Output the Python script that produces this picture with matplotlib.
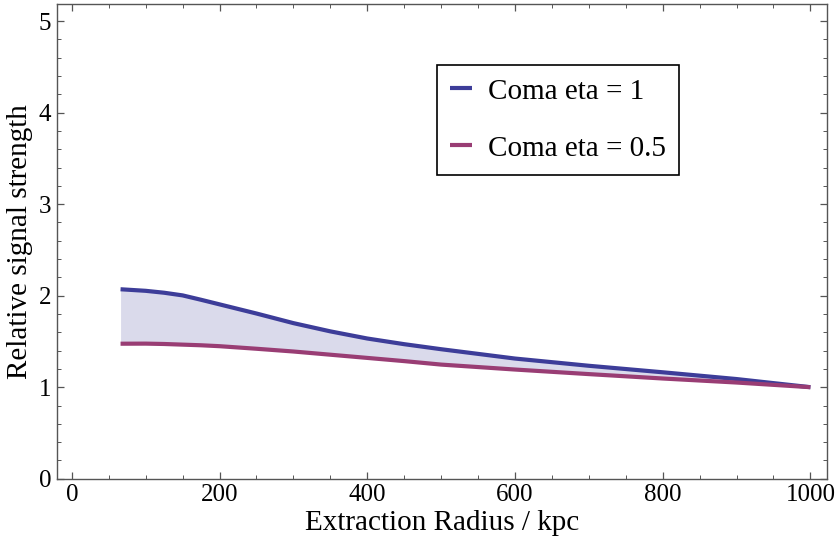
import matplotlib
matplotlib.use("Agg")
import matplotlib.pyplot as plt
from matplotlib.ticker import MultipleLocator

plt.rcParams['font.family'] = ['Liberation Serif', 'DejaVu Serif']

# values
radius = [66, 100, 125, 150, 175, 200, 250, 300, 350, 400, 450, 500,
          600, 700, 800, 900, 1000]
signal_eta1 = [2.07, 2.053, 2.032, 2.003, 1.955, 1.905, 1.805, 1.70, 1.61, 1.532,
               1.47, 1.415, 1.313, 1.234, 1.163, 1.089, 1.0]
signal_eta05 = [1.475, 1.476, 1.472, 1.465, 1.458, 1.448, 1.42, 1.39, 1.355, 1.32,
                1.285, 1.247, 1.193, 1.143, 1.095, 1.051, 1.0]
labels = ['Coma eta = 1', 'Coma eta = 0.5']

blue = '#3D3D99'
purple = '#993D74'
axis_grey = '#555555'

fig = plt.figure(figsize=(8.35, 5.49), dpi=100)
ax = fig.add_axes([0.0683, 0.128, 0.9217, 0.8653])

ax.fill_between(radius, signal_eta05, signal_eta1, color=blue, alpha=0.19, lw=0)
ax.plot(radius, signal_eta1, color=blue, lw=3, label=labels[0], solid_capstyle='butt')
ax.plot(radius, signal_eta05, color=purple, lw=3, label=labels[1], solid_capstyle='butt')

ax.set_xlim(-20, 1022)
ax.set_ylim(0, 5.19)
ax.xaxis.set_major_locator(MultipleLocator(200))
ax.xaxis.set_minor_locator(MultipleLocator(50))
ax.yaxis.set_major_locator(MultipleLocator(1))
ax.yaxis.set_minor_locator(MultipleLocator(0.2))

for s in ax.spines.values():
    s.set_color(axis_grey)
    s.set_linewidth(1.0)
ax.tick_params(which='both', direction='in', top=True, right=True,
               color=axis_grey, labelsize=18, labelcolor='black')
ax.tick_params(which='major', length=5, width=0.9, pad=4)
ax.tick_params(which='minor', length=3, width=0.7)

ax.set_xlabel('Extraction Radius / kpc', fontsize=21, labelpad=3)
ax.set_ylabel('Relative signal strength', fontsize=21, labelpad=4)

leg = ax.legend(loc='upper left', bbox_to_anchor=(0.494, 0.871), fontsize=21,
                fancybox=False, edgecolor='black', framealpha=1,
                handlelength=0.75, handletextpad=0.55, labelspacing=1.05,
                borderpad=0.45, borderaxespad=0)
leg.get_frame().set_linewidth(1.2)

fig.savefig('out.png', dpi=100)
